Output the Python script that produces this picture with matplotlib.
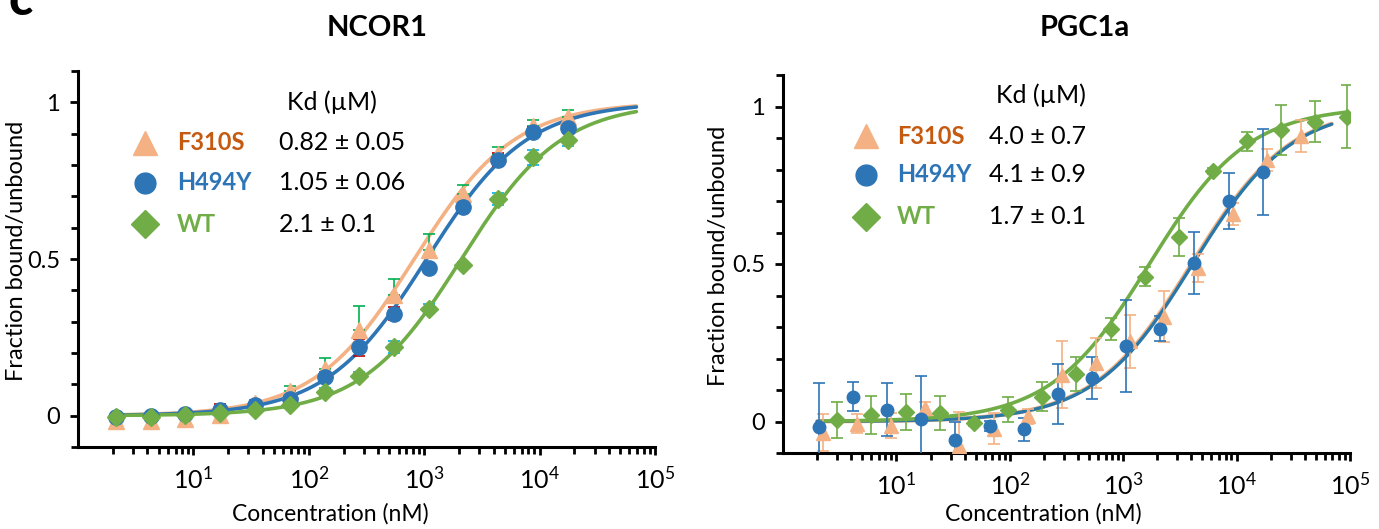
import matplotlib
matplotlib.use('Agg')
import matplotlib.pyplot as plt
import numpy as np
from matplotlib.ticker import FixedLocator, NullFormatter

plt.rcParams['font.family'] = ['Lato', 'DejaVu Sans']
plt.rcParams['mathtext.fontset'] = 'custom'
plt.rcParams['mathtext.rm'] = 'Lato'
plt.rcParams['mathtext.it'] = 'Lato:italic'
plt.rcParams['mathtext.bf'] = 'Lato:bold'

W, H = 1379, 529

series = ['F310S', 'H494Y', 'WT']
marker_colors = ['#F4B183', '#2E75B6', '#70AD47']
label_colors = ['#C55A11', '#2E75B6', '#70AD47']
markers = ['^', 'o', 'D']

# ---- NCOR1 ----
ncor_conc = [2.14, 4.27, 8.54, 17.1, 34.2, 68.4, 137, 273, 547, 1094, 2188, 4375, 8750, 17500]
ncor_f310s = [-0.016, -0.016, -0.01, 0.002, 0.04, 0.08, 0.15, 0.273, 0.385, 0.53, 0.707, 0.835, 0.925, 0.953]
ncor_f310s_err = [0.005, 0.005, 0.005, 0.01, 0.01, 0.016, 0.034, 0.077, 0.05, 0.05, 0.03, 0.024, 0.02, 0.022]
ncor_h494y = [-0.003, 0.0, 0.005, 0.019, 0.035, 0.053, 0.123, 0.219, 0.326, 0.47, 0.666, 0.817, 0.905, 0.918]
ncor_h494y_err = [0.005, 0.005, 0.005, 0.018, 0.01, 0.01, 0.015, 0.027, 0.02, 0.015, 0.02, 0.02, 0.015, 0.015]
ncor_wt = [-0.005, -0.005, 0.002, 0.009, 0.019, 0.035, 0.075, 0.128, 0.219, 0.342, 0.482, 0.691, 0.824, 0.881]
ncor_wt_err = [0.005, 0.005, 0.005, 0.005, 0.008, 0.01, 0.012, 0.01, 0.02, 0.015, 0.01, 0.02, 0.025, 0.02]
ncor_kd_nM = [820, 1050, 2100]
ncor_kd_text = ['0.82 ± 0.05', '1.05 ± 0.06', '2.1 ± 0.1']

# ---- PGC1a ----
pgc_conc_f310s = [2.25, 4.5, 9.0, 18, 36, 72, 144, 288, 576, 1152, 2304, 4608, 9216, 18432, 36864]
pgc_f310s = [-0.035, -0.007, -0.013, 0.042, -0.079, -0.023, 0.016, 0.149, 0.185, 0.254, 0.333, 0.487, 0.659, 0.83, 0.907]
pgc_f310s_err = [0.06, 0.03, 0.04, 0.02, 0.11, 0.05, 0.025, 0.107, 0.08, 0.085, 0.08, 0.045, 0.035, 0.035, 0.05]
pgc_conc_h494y = [2.08, 4.15, 8.3, 16.6, 33.2, 66.4, 133, 266, 531, 1062, 2125, 4250, 8500, 17000]
pgc_h494y = [-0.019, 0.079, 0.037, 0.008, -0.058, -0.014, -0.025, 0.088, 0.138, 0.241, 0.294, 0.503, 0.70, 0.793]
pgc_h494y_err = [0.14, 0.045, 0.084, 0.135, 0.058, 0.015, 0.037, 0.095, 0.068, 0.146, 0.04, 0.098, 0.09, 0.136]
pgc_conc_wt = [3.0, 6.0, 12.1, 24.2, 48.3, 96.7, 193, 387, 773, 1547, 3094, 6188, 12375, 24750, 49500, 95000]
pgc_wt = [0.005, 0.021, 0.03, 0.027, -0.005, 0.037, 0.079, 0.151, 0.294, 0.46, 0.585, 0.796, 0.889, 0.925, 0.951, 0.967]
pgc_wt_err = [0.057, 0.06, 0.058, 0.055, 0.01, 0.04, 0.047, 0.055, 0.036, 0.03, 0.06, 0.01, 0.03, 0.08, 0.065, 0.10]
pgc_kd_nM = [4000, 4100, 1700]
pgc_kd_text = ['4.0 ± 0.7', '4.1 ± 0.9', '1.7 ± 0.1']


def fx(x):
    return x / W


def fy(y):
    return 1 - y / H


def style_axes(ax):
    ax.set_xscale('log')
    ax.set_xlim(1, 1e5)
    ax.set_ylim(-0.1, 1.1)
    for s in ['top', 'right']:
        ax.spines[s].set_visible(False)
    for s in ['left', 'bottom']:
        ax.spines[s].set_linewidth(2.2)
    ax.set_xticks([10, 100, 1e3, 1e4, 1e5])
    ax.set_xticklabels([r'$10^{1}$', r'$10^{2}$', r'$10^{3}$', r'$10^{4}$', r'$10^{5}$'])
    ax.xaxis.set_minor_locator(FixedLocator(
        [m * 10 ** e for e in range(0, 5) for m in range(2, 10)]))
    ax.xaxis.set_minor_formatter(NullFormatter())
    ax.set_yticks([0, 0.5, 1])
    ax.set_yticklabels(['0', '0.5', '1'])
    ax.yaxis.set_minor_locator(FixedLocator(np.round(np.arange(-0.1, 1.11, 0.1), 2)))
    ax.tick_params(which='both', direction='out', width=2, color='black')
    ax.tick_params(axis='x', labelsize=18, pad=8)
    ax.tick_params(axis='y', labelsize=17, pad=7)
    ax.tick_params(which='major', length=6)
    ax.tick_params(which='minor', length=5)


def fit_curve(ax, kd, lo, hi, color, lw):
    xs = np.logspace(np.log10(lo), np.log10(hi), 300)
    ax.plot(xs, xs / (kd + xs), color=color, lw=lw, solid_capstyle='round', zorder=2)


fig = plt.figure(figsize=(W / 100, H / 100), dpi=100)

# ---------- left panel ----------
ax1 = fig.add_axes([fx(78), fy(447), fx(655) - fx(78), fy(71) - fy(447)])
style_axes(ax1)
for kd, c in zip(ncor_kd_nM, marker_colors):
    fit_curve(ax1, kd, 2.0, 69000, c, 2.6)

zero = [0] * len(ncor_conc)
ax1.errorbar(ncor_conc, ncor_f310s, yerr=[zero, ncor_f310s_err], fmt='none',
             ecolor='#00B050', elinewidth=1.2, capsize=4, capthick=1.2, zorder=3)
ax1.errorbar(ncor_conc, ncor_h494y, yerr=ncor_h494y_err, fmt='none',
             ecolor='#C00000', elinewidth=1.2, capsize=4, capthick=1.2, zorder=3)
ax1.errorbar(ncor_conc, ncor_wt, yerr=ncor_wt_err, fmt='none',
             ecolor='#00B0F0', elinewidth=1.2, capsize=4, capthick=1.2, zorder=3)
ax1.plot(ncor_conc, ncor_f310s, ls='none', marker='^', ms=12, color=marker_colors[0], zorder=4)
ax1.plot(ncor_conc, ncor_h494y, ls='none', marker='o', ms=11, color=marker_colors[1], zorder=5)
ax1.plot(ncor_conc, ncor_wt, ls='none', marker='D', ms=9, color=marker_colors[2], zorder=6)

# ---------- right panel ----------
ax2 = fig.add_axes([fx(783), fy(453), fx(1350) - fx(783), fy(75) - fy(453)])
style_axes(ax2)
fit_curve(ax2, pgc_kd_nM[0], 2.0, 69000, marker_colors[0], 3.0)
fit_curve(ax2, pgc_kd_nM[1], 2.0, 69000, '#2A78A8', 2.4)
fit_curve(ax2, pgc_kd_nM[2], 2.2, 95000, marker_colors[2], 2.6)

pgc_sets = [
    (pgc_conc_f310s, pgc_f310s, pgc_f310s_err),
    (pgc_conc_h494y, pgc_h494y, pgc_h494y_err),
    (pgc_conc_wt, pgc_wt, pgc_wt_err),
]
ms2 = [10, 9, 8]
for i, (cx, cy, ce) in enumerate(pgc_sets):
    ax2.errorbar(cx, cy, yerr=ce, fmt='none', ecolor=marker_colors[i], elinewidth=1.2,
                 capsize=4, capthick=1.2, zorder=3, clip_on=True)
    ax2.plot(cx, cy, ls='none', marker=markers[i], ms=ms2[i], color=marker_colors[i],
             zorder=4 + i)

# ---------- legends / Kd tables ----------
def kd_table(mx, lx, vx, kx, ys, ky, texts, msizes):
    fig.text(fx(kx), fy(ky), 'Kd (µM)', fontsize=18, ha='left', va='center')
    for i in range(3):
        fig.add_artist(plt.Line2D([fx(mx)], [fy(ys[i])], marker=markers[i], ls='none',
                                  ms=msizes[i], color=marker_colors[i],
                                  transform=fig.transFigure))
        fig.text(fx(lx), fy(ys[i]), series[i], fontsize=17, fontweight='bold',
                 color=label_colors[i], ha='left', va='center')
        fig.text(fx(vx), fy(ys[i]), texts[i], fontsize=18, ha='left', va='center')


kd_table(145, 177, 279, 287, [143, 183, 224], 102, ncor_kd_text, [17, 15, 14])
kd_table(866, 897, 989, 996, [136, 175, 217], 95, pgc_kd_text, [17, 15, 14])

# ---------- titles and axis labels ----------
fig.text(fx(377), fy(28), 'NCOR1', fontsize=21, fontweight='bold', ha='center', va='center')
fig.text(fx(1085), fy(28), 'PGC1a', fontsize=21, fontweight='bold', ha='center', va='center')
# panel letter, partly cut by the top edge as in the original figure
fig.text(fx(8), fy(15), 'c', fontsize=36, fontweight='black', ha='left', va='baseline')

fig.text(fx(330), fy(514), 'Concentration (nM)', fontsize=16.5, ha='center', va='center')
fig.text(fx(1043), fy(514), 'Concentration (nM)', fontsize=16.5, ha='center', va='center')
fig.text(fx(17), fy(251), 'Fraction bound/unbound', fontsize=17, rotation=90,
         ha='center', va='center')
fig.text(fx(719), fy(256), 'Fraction bound/unbound', fontsize=17, rotation=90,
         ha='center', va='center')

fig.savefig('out.png', dpi=100)
